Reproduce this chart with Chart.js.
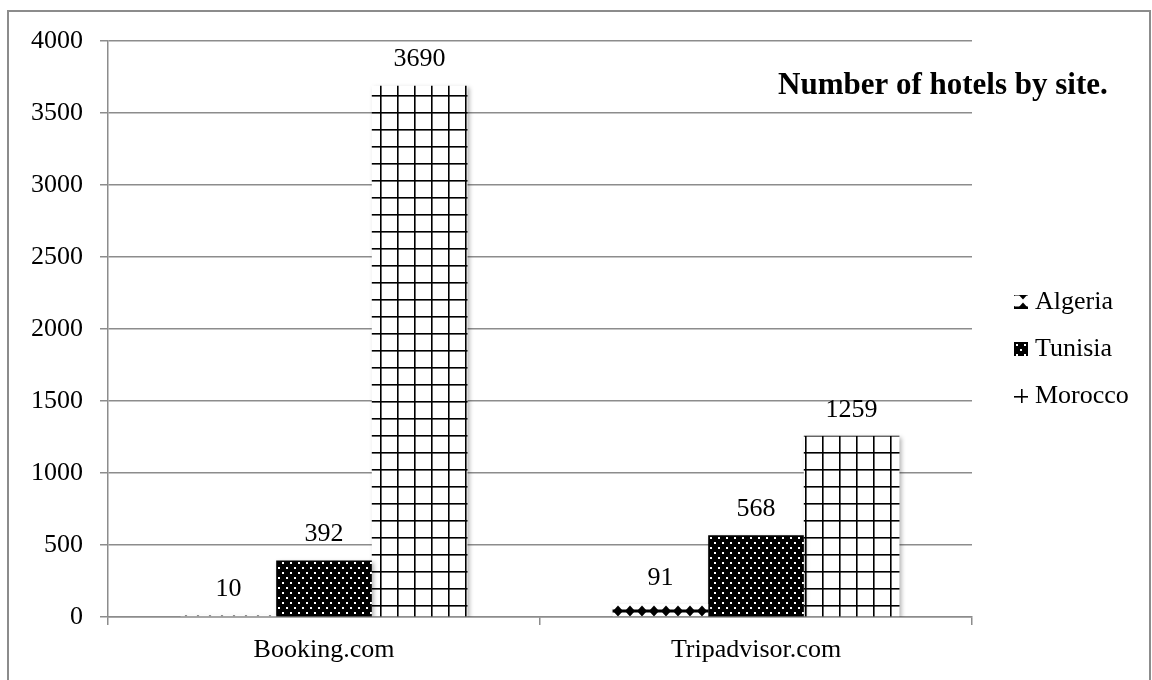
<!DOCTYPE html>
<html>
<head>
<meta charset="utf-8">
<script src="https://cdn.jsdelivr.net/npm/chart.js@4/dist/chart.umd.min.js"></script>
<style>
  body { margin: 0; background: #fff; }
  #wrap { position: relative; width: 1152px; height: 680px; overflow: hidden; }
  #frame { position: absolute; left: 7px; top: 10px; width: 1140px; height: 700px; border: 2px solid #8c8c8c; }
  #chart { position: absolute; left: 0; top: 0; }
</style>
</head>
<body>
<div id="wrap">
  <div id="frame"></div>
  <canvas id="chart" width="1152" height="680"></canvas>
</div>
<script>
const sites = ["Booking.com", "Tripadvisor.com"];
const countries = ["Algeria", "Tunisia", "Morocco"];
const algeriaHotels = [10, 91];
const tunisiaHotels = [392, 568];
const moroccoHotels = [3690, 1259];
const yTicks = { min: 0, max: 4000, step: 500 };
const chartTitle = "Number of hotels by site.";

const fontFamily = "'Liberation Serif', 'Times New Roman', serif";

function makeTile(w, h, draw) {
  const c = document.createElement("canvas");
  c.width = w;
  c.height = h;
  draw(c.getContext("2d"), w, h);
  return document.createElement("canvas").getContext("2d").createPattern(c, "repeat");
}

// row of black diamonds
const algeriaFill = makeTile(12, 14, (g, w, h) => {
  g.fillStyle = "#fff";
  g.fillRect(0, 0, w, h);
  g.fillStyle = "#000";
  [9, -5].forEach(c => {
    g.fillRect(0, c - 1.5, w, 3);
    g.beginPath();
    g.moveTo(6, c - 5.5);
    g.lineTo(11, c);
    g.lineTo(6, c + 5.5);
    g.lineTo(1, c);
    g.closePath();
    g.fill();
  });
});

// black with white dots
const tunisiaFill = makeTile(8, 10, (g, w, h) => {
  g.fillStyle = "#000";
  g.fillRect(0, 0, w, h);
  g.fillStyle = "#fff";
  g.fillRect(2, 2, 2, 2);
  g.fillRect(6, 7, 2, 2);
});

// white with black grid
const moroccoFill = makeTile(17, 17, (g, w, h) => {
  g.fillStyle = "#fff";
  g.fillRect(0, 0, w, h);
  g.fillStyle = "#000";
  g.fillRect(6, 0, 1.6, h);
  g.fillRect(0, 10, w, 1.6);
});

const fills = [algeriaFill, tunisiaFill, moroccoFill];
// where the pattern sits inside each legend swatch
const swatchShift = [[3, 4], [0, 0], [1, -3]];

const barShadow = {
  id: "barShadow",
  beforeDatasetsDraw(chart) {
    const ctx = chart.ctx;
    ctx.save();
    ctx.shadowColor = "rgba(0,0,0,0.3)";
    ctx.shadowBlur = 4;
    ctx.shadowOffsetX = 2;
    ctx.shadowOffsetY = 2;
  },
  afterDatasetsDraw(chart) {
    chart.ctx.restore();
  }
};

const valueLabels = {
  id: "valueLabels",
  afterDatasetsDraw(chart) {
    const ctx = chart.ctx;
    ctx.save();
    ctx.font = "26px " + fontFamily;
    ctx.fillStyle = "#000";
    ctx.textAlign = "center";
    ctx.textBaseline = "middle";
    chart.data.datasets.forEach((ds, i) => {
      chart.getDatasetMeta(i).data.forEach((bar, j) => {
        ctx.fillText(String(ds.data[j]), bar.x, bar.y - 26);
      });
    });
    ctx.restore();
  }
};

const titleAndLegend = {
  id: "titleAndLegend",
  afterDraw(chart) {
    const ctx = chart.ctx;
    ctx.save();
    ctx.fillStyle = "#000";
    ctx.font = "bold 31px " + fontFamily;
    ctx.textAlign = "left";
    ctx.textBaseline = "middle";
    ctx.fillText(chartTitle, 778, 86);

    const left = chart.chartArea.right + 42;
    const rows = [302, 349, 396];
    ctx.font = "26px " + fontFamily;
    countries.forEach((name, i) => {
      const y = rows[i];
      ctx.save();
      ctx.translate(left + swatchShift[i][0], y - 7 + swatchShift[i][1]);
      ctx.fillStyle = fills[i];
      ctx.fillRect(-swatchShift[i][0], -swatchShift[i][1], 14, 14);
      ctx.restore();
      ctx.fillStyle = "#000";
      ctx.fillText(name, left + 21, y);
    });
    ctx.restore();
  }
};

new Chart(document.getElementById("chart"), {
  type: "bar",
  data: {
    labels: sites,
    datasets: [
      { label: countries[0], data: algeriaHotels, backgroundColor: algeriaFill },
      { label: countries[1], data: tunisiaHotels, backgroundColor: tunisiaFill },
      { label: countries[2], data: moroccoHotels, backgroundColor: moroccoFill }
    ]
  },
  options: {
    responsive: false,
    animation: false,
    layout: { padding: { top: 41, right: 180, left: 0, bottom: 0 } },
    datasets: {
      bar: { categoryPercentage: 0.664, barPercentage: 1.0, borderWidth: 0 }
    },
    plugins: {
      legend: { display: false },
      title: { display: false },
      tooltip: { enabled: false }
    },
    scales: {
      x: {
        grid: { display: true, drawOnChartArea: false, offset: true, tickLength: 8, color: "#8c8c8c", lineWidth: 1.5 },
        border: { display: true, color: "#8c8c8c", width: 1.5 },
        ticks: { color: "#000", padding: 10, font: { family: fontFamily, size: 26 } },
        afterFit(scale) { scale.height = 63; }
      },
      y: {
        min: yTicks.min,
        max: yTicks.max,
        ticks: {
          stepSize: yTicks.step,
          color: "#000",
          padding: 17,
          font: { family: fontFamily, size: 26 },
          callback: value => String(value)
        },
        grid: { color: "#8c8c8c", lineWidth: 1.5, tickLength: 8 },
        border: { display: true, color: "#8c8c8c", width: 1.5 },
        afterFit(scale) { scale.width = 108; }
      }
    }
  },
  plugins: [barShadow, valueLabels, titleAndLegend]
});
</script>
</body>
</html>
